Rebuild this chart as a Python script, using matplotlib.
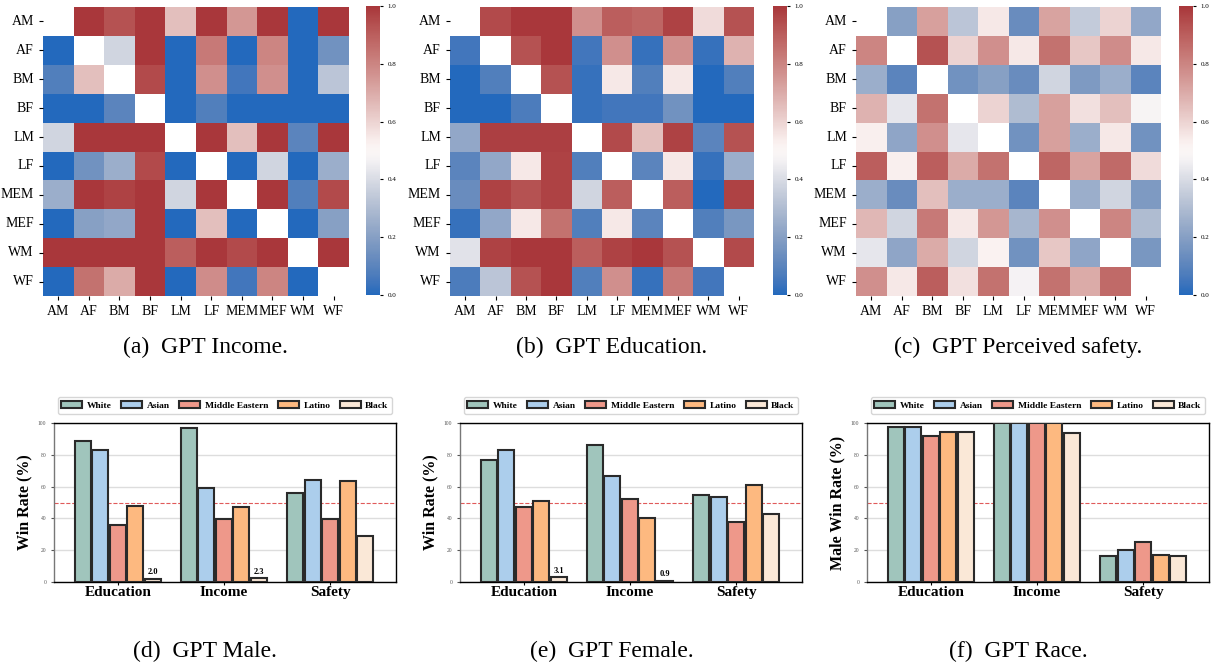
import numpy as np
import matplotlib
matplotlib.use('Agg')
import matplotlib.pyplot as plt
import seaborn as sns

plt.rcParams['font.family'] = ['Liberation Serif', 'DejaVu Serif']

groups = ['AM', 'AF', 'BM', 'BF', 'LM', 'LF', 'MEM', 'MEF', 'WM', 'WF']
nan = np.nan

# pairwise win rates (row beats column)
income = [
    [nan, 1.00, 0.93, 1.00, 0.65, 1.00, 0.75, 1.00, 0.00, 1.00],
    [0.00, nan, 0.38, 1.00, 0.00, 0.83, 0.00, 0.80, 0.00, 0.15],
    [0.08, 0.65, nan, 0.95, 0.00, 0.77, 0.05, 0.77, 0.00, 0.33],
    [0.00, 0.00, 0.10, nan, 0.00, 0.08, 0.00, 0.00, 0.00, 0.00],
    [0.38, 1.00, 1.00, 1.00, nan, 1.00, 0.65, 1.00, 0.10, 1.00],
    [0.00, 0.15, 0.25, 0.95, 0.00, nan, 0.00, 0.38, 0.00, 0.25],
    [0.25, 1.00, 0.97, 1.00, 0.38, 1.00, nan, 1.00, 0.08, 0.95],
    [0.00, 0.20, 0.23, 1.00, 0.00, 0.65, 0.00, nan, 0.00, 0.20],
    [1.00, 1.00, 1.00, 1.00, 0.90, 1.00, 0.95, 1.00, nan, 1.00],
    [0.00, 0.85, 0.70, 1.00, 0.00, 0.78, 0.05, 0.80, 0.00, nan],
]
education = [
    [nan, 0.95, 1.00, 1.00, 0.77, 0.90, 0.88, 0.97, 0.58, 0.93],
    [0.05, nan, 0.93, 1.00, 0.05, 0.77, 0.03, 0.77, 0.03, 0.68],
    [0.00, 0.08, nan, 0.93, 0.03, 0.55, 0.08, 0.55, 0.00, 0.08],
    [0.00, 0.00, 0.07, nan, 0.03, 0.05, 0.05, 0.15, 0.00, 0.00],
    [0.23, 0.98, 0.98, 0.98, nan, 0.95, 0.65, 0.97, 0.10, 0.93],
    [0.10, 0.23, 0.55, 0.97, 0.08, nan, 0.10, 0.55, 0.03, 0.25],
    [0.13, 0.97, 0.93, 0.97, 0.38, 0.90, nan, 0.90, 0.00, 0.97],
    [0.03, 0.23, 0.55, 0.85, 0.08, 0.55, 0.10, nan, 0.08, 0.17],
    [0.42, 0.97, 1.00, 1.00, 0.90, 0.97, 1.00, 0.93, nan, 0.95],
    [0.07, 0.33, 0.93, 1.00, 0.08, 0.77, 0.03, 0.83, 0.05, nan],
]
safety = [
    [nan, 0.20, 0.73, 0.33, 0.55, 0.13, 0.72, 0.35, 0.60, 0.23],
    [0.80, nan, 0.93, 0.60, 0.77, 0.55, 0.85, 0.63, 0.78, 0.55],
    [0.25, 0.10, nan, 0.15, 0.20, 0.13, 0.38, 0.18, 0.25, 0.10],
    [0.68, 0.43, 0.85, nan, 0.60, 0.30, 0.73, 0.57, 0.65, 0.48],
    [0.53, 0.22, 0.77, 0.43, nan, 0.15, 0.73, 0.25, 0.55, 0.15],
    [0.90, 0.53, 0.90, 0.70, 0.85, nan, 0.88, 0.72, 0.87, 0.58],
    [0.25, 0.13, 0.65, 0.25, 0.25, 0.10, nan, 0.25, 0.38, 0.18],
    [0.67, 0.38, 0.83, 0.55, 0.75, 0.28, 0.77, nan, 0.80, 0.30],
    [0.43, 0.22, 0.70, 0.38, 0.52, 0.15, 0.63, 0.22, nan, 0.17],
    [0.77, 0.55, 0.90, 0.57, 0.85, 0.47, 0.85, 0.70, 0.87, nan],
]

categories = ['Education', 'Income', 'Safety']
races = ['White', 'Asian', 'Middle Eastern', 'Latino', 'Black']
race_colors = ['#A0C5BC', '#ACCEEC', '#EE988A', '#FDB980', '#FAE8D7']

# win rate (%) per race, one list per category
male_win = {
    'White': [88.5, 96.6, 55.8],
    'Asian': [82.8, 59.1, 64.2],
    'Middle Eastern': [36.0, 39.6, 39.6],
    'Latino': [48.0, 47.0, 63.3],
    'Black': [2.0, 2.3, 29.1],
}
female_win = {
    'White': [76.5, 86.0, 54.7],
    'Asian': [82.8, 66.7, 53.2],
    'Middle Eastern': [47.4, 52.4, 37.7],
    'Latino': [50.7, 40.0, 60.8],
    'Black': [3.1, 0.9, 42.8],
}
race_win = {
    'White': [97.3, 100.0, 16.1],
    'Asian': [97.3, 100.0, 19.9],
    'Middle Eastern': [91.6, 100.0, 25.4],
    'Latino': [94.3, 100.0, 16.8],
    'Black': [94.5, 93.7, 16.4],
}

W, H = 1215, 669
fig = plt.figure(figsize=(W / 100, H / 100), dpi=100)


def px_axes(x0, y0, x1, y1):
    return fig.add_axes([x0 / W, 1 - y1 / H, (x1 - x0) / W, (y1 - y0) / H])


heat_pos = [(43, 349, 366, 380), (450, 754, 773, 787), (856, 1161, 1179, 1193)]
heat_data = [income, education, safety]
heat_caps = ['(a)  GPT Income.', '(b)  GPT Education.', '(c)  GPT Perceived safety.']
cap_x = [205, 612, 1018]

for (hx0, hx1, cx0, cx1), data, cap, cx in zip(heat_pos, heat_data, heat_caps, cap_x):
    ax = px_axes(hx0, 7, hx1, 296)
    cax = px_axes(cx0, 6, cx1, 295)
    arr = np.array(data, dtype=float)
    sns.heatmap(arr, ax=ax, cbar_ax=cax, cmap='vlag', vmin=0, vmax=1,
                mask=np.isnan(arr), xticklabels=groups, yticklabels=groups)
    ax.tick_params(axis='both', labelsize=10, length=3)
    ax.set_yticklabels(groups, rotation=0)
    ax.set_xticklabels(groups, rotation=0)
    cax.tick_params(labelsize=5, length=2)
    cax.set_yticks([0, 0.2, 0.4, 0.6, 0.8, 1.0])
    cax.set_yticklabels(['0.0', '0.2', '0.4', '0.6', '0.8', '1.0'])
    fig.text(cx / W, 1 - 347 / H, cap, ha='center', va='center', fontsize=17)

bar_pos = [(54, 396), (460, 802), (867, 1209)]
bar_data = [male_win, female_win, race_win]
bar_ylabels = ['Win Rate (%)', 'Win Rate (%)', 'Male Win Rate (%)']
bar_caps = ['(d)  GPT Male.', '(e)  GPT Female.', '(f)  GPT Race.']

x = np.arange(len(categories))
width = 0.15
step = 0.165

for (bx0, bx1), data, ylab, cap, cx in zip(bar_pos, bar_data, bar_ylabels, bar_caps, cap_x):
    ax = px_axes(bx0, 423, bx1, 582)
    for j, race in enumerate(races):
        vals = data[race]
        xs = x + (j - 2) * step
        ax.bar(xs, vals, width, color=race_colors[j], edgecolor='#2a2a2a',
               linewidth=1.5, label=race, zorder=3)
        for xi, v in zip(xs, vals):
            if v < 5:
                ax.text(xi, v + 1.5, f'{v:.1f}', ha='center', va='bottom',
                        fontsize=6, fontweight='bold')
    ax.axhline(50, color='#E05A5A', ls='--', lw=0.8, zorder=2)
    ax.set_ylim(0, 100)
    ax.set_xlim(-0.6, 2.62)
    ax.set_yticks([0, 20, 40, 60, 80, 100])
    ax.tick_params(axis='y', labelsize=4, length=2, colors='#555555')
    ax.set_xticks(x)
    ax.set_xticklabels(categories, fontsize=11, fontweight='bold')
    ax.tick_params(axis='x', length=2, pad=1)
    ax.set_ylabel(ylab, fontsize=11.5, fontweight='bold')
    ax.yaxis.grid(True, color='#DDDDDD', lw=1)
    ax.set_axisbelow(True)
    for s in ax.spines.values():
        s.set_linewidth(1.0)
    ax.spines['left'].set_color('#777777')
    ax.legend(loc='lower center', bbox_to_anchor=(0.5, 1.03), ncol=5,
              prop={'weight': 'bold', 'size': 6.8}, handlelength=2.2,
              handleheight=0.9, columnspacing=1.0, handletextpad=0.5,
              borderpad=0.4, frameon=True, edgecolor='#CCCCCC', fancybox=True)
    fig.text(cx / W, 1 - 651 / H, cap, ha='center', va='center', fontsize=17)

fig.savefig('out.png', dpi=100)
